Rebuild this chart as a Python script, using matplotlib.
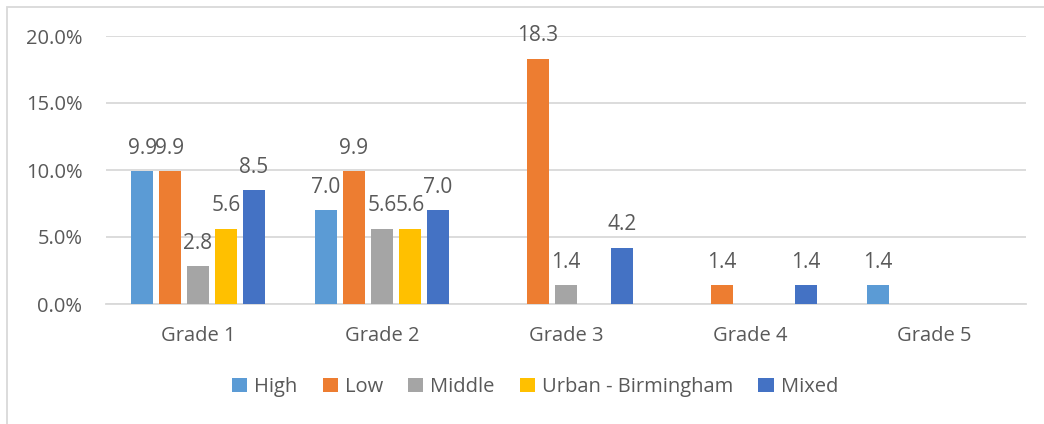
import matplotlib
matplotlib.use("Agg")
import matplotlib.pyplot as plt
from matplotlib.patches import Rectangle
import numpy as np

plt.rcParams['font.family'] = ['Open Sans', 'DejaVu Sans']

categories = ["Grade 1", "Grade 2", "Grade 3", "Grade 4", "Grade 5"]
series_names = ["High", "Low", "Middle", "Urban - Birmingham", "Mixed"]
high = [9.9, 7.0, 0.0, 0.0, 1.4]
low = [9.9, 9.9, 18.3, 1.4, 0.0]
middle = [2.8, 5.6, 1.4, 0.0, 0.0]
urban = [5.6, 5.6, 0.0, 0.0, 0.0]
mixed = [8.5, 7.0, 4.2, 1.4, 0.0]
series_values = [high, low, middle, urban, mixed]
colors = ["#5B9BD5", "#ED7D31", "#A5A5A5", "#FFC000", "#4472C4"]
y_ticks = [0, 5, 10, 15, 20]

text_color = "#595959"
grid_color = "#D9D9D9"

fig = plt.figure(figsize=(10.44, 4.24), dpi=100)
ax = fig.add_axes([106/1044, 1-304/424, (1026-106)/1044, (304-36)/424])

x = np.arange(len(categories))
step = 0.152
width = 0.122
handles = []
for i, (name, vals, c) in enumerate(zip(series_names, series_values, colors)):
    pos = x + (i - 2) * step
    b = ax.bar(pos, vals, width=width, color=c, label=name, zorder=3)
    handles.append(b)
    for p, v in zip(pos, vals):
        if v > 0:
            ax.annotate(f"{v:.1f}", (p, v), xytext=(0, 9), textcoords="offset points",
                        ha="center", va="bottom", fontsize=15, color=text_color)

ax.set_xlim(-0.5, len(categories) - 0.5)
ax.set_ylim(0, 20)
ax.set_yticks(y_ticks)
ax.set_yticklabels([f"{t:.1f}%" for t in y_ticks])
ax.set_xticks(x)
ax.set_xticklabels(categories)
ax.tick_params(axis="both", length=0, labelsize=14.5, labelcolor=text_color)
ax.tick_params(axis="y", pad=17)
ax.tick_params(axis="x", pad=16)
ax.grid(axis="y", color=grid_color, linewidth=1.3, zorder=0)
for s in ["top", "right", "left"]:
    ax.spines[s].set_visible(False)
ax.spines["bottom"].set_color(grid_color)
ax.spines["bottom"].set_linewidth(1.3)

leg = fig.legend(handles=handles, labels=series_names, loc="center",
                 bbox_to_anchor=(535/1044, 1-387/424), ncol=5, frameon=False,
                 fontsize=14.5, handlelength=0.75, handleheight=0.75,
                 handletextpad=0.35, columnspacing=1.25)
for t in leg.get_texts():
    t.set_color(text_color)

fig.patches.append(Rectangle((7/1044, -0.1), 1.2, 1 - 7/424 + 0.1,
                             transform=fig.transFigure, fill=False,
                             edgecolor=grid_color, linewidth=1.3))

fig.savefig("out.png", dpi=100)
